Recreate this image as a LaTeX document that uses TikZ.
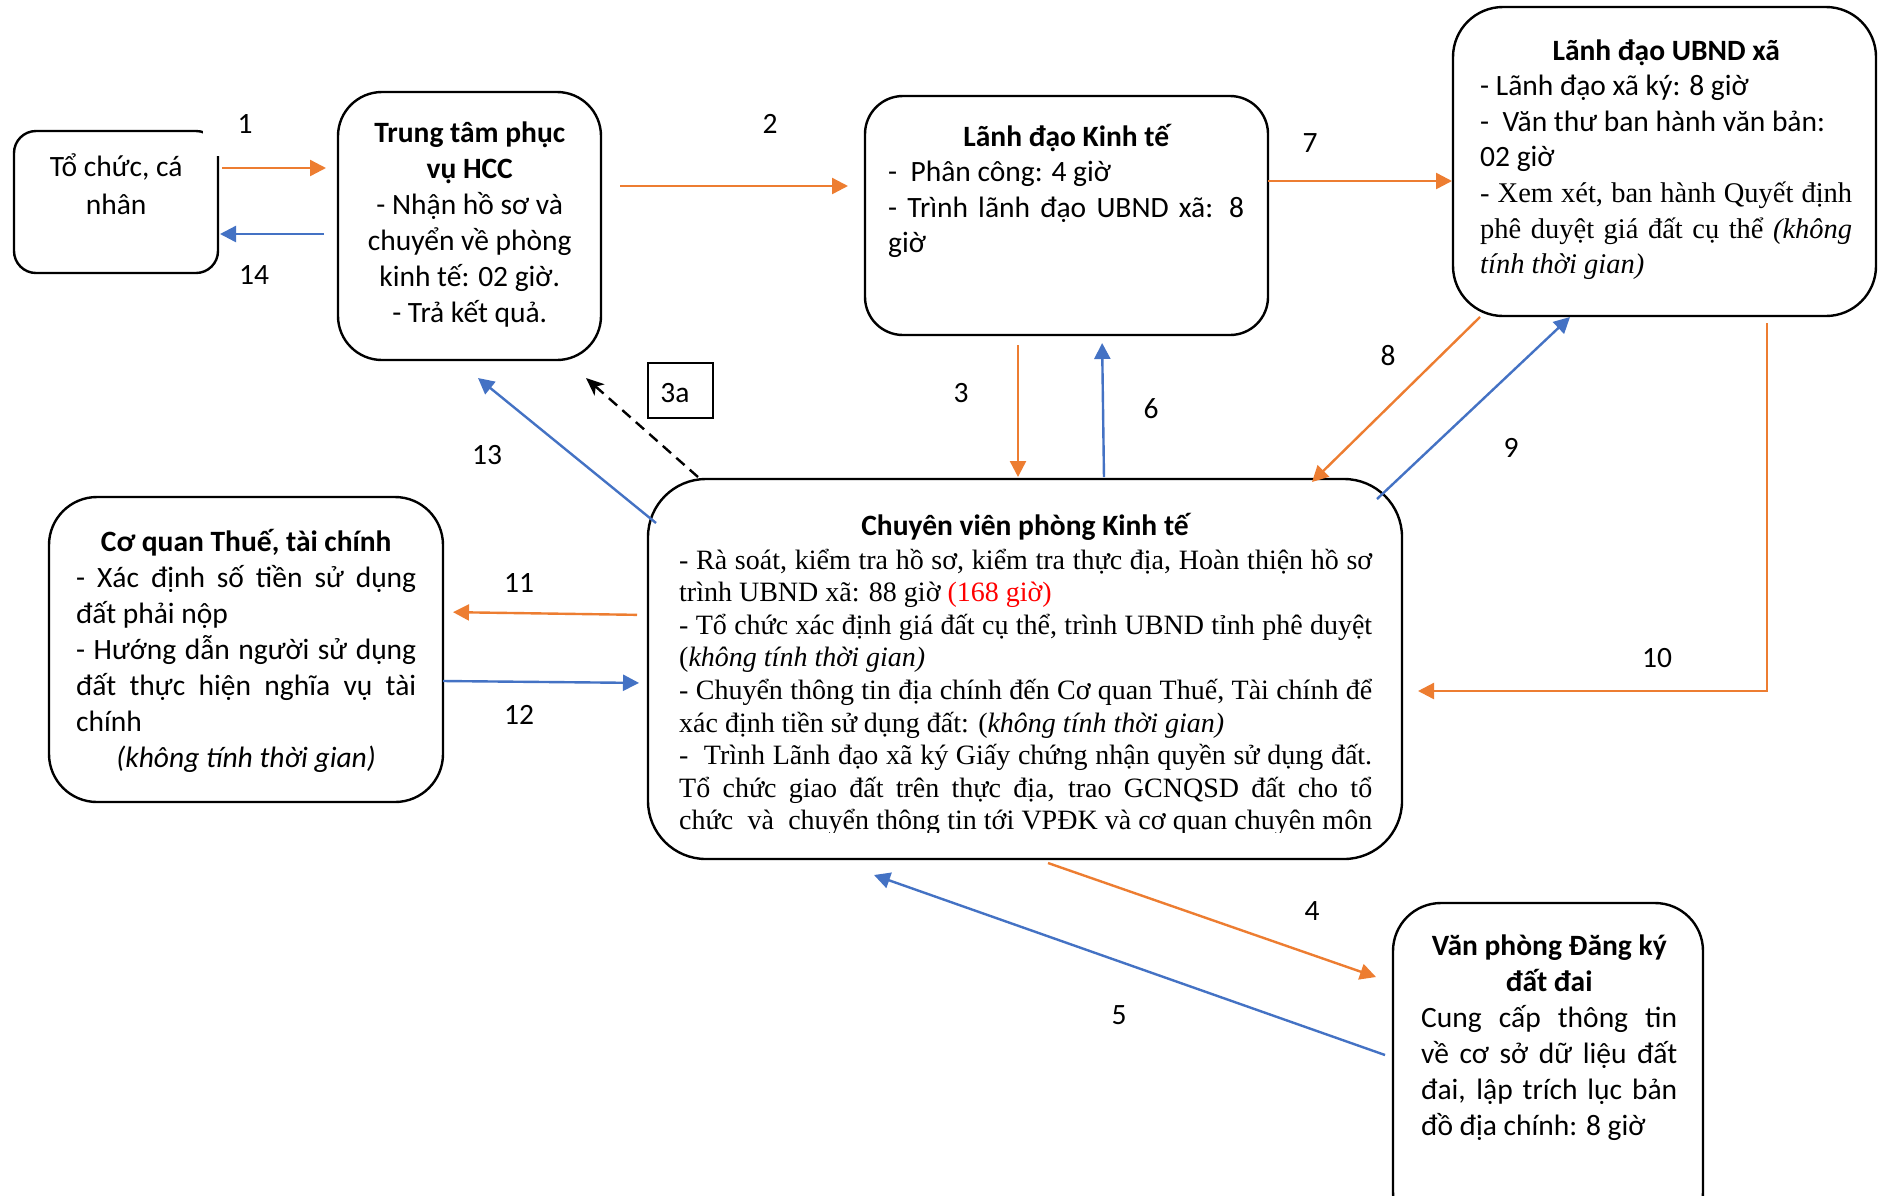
\documentclass[tikz,border=0pt]{standalone}
\usepackage{fontspec}
\setmainfont{Carlito}
\newfontfamily\tnr{Liberation Serif}
\usetikzlibrary{arrows.meta}
\definecolor{orng}{HTML}{ED7D31}
\definecolor{blu}{HTML}{4472C4}
\newcommand\calf{\fontsize{29.5}{36}\selectfont}
\newcommand\tnrD{\tnr\fontsize{28.5}{35.8}\selectfont}
\newcommand\tnrE{\tnr\fontsize{28}{32.6}\selectfont}
\newcommand\Jl[2]{\hbox to #1{#2}}
\newcommand\Ll[2]{\hbox to #1{#2\hfil}}
\newcommand\Cl[2]{\hbox to #1{\hfil#2\hfil}}
\newcommand\tv[1]{\vtop{\lineskiplimit=-100pt\relax #1}}
\tikzset{
  box/.style={draw, line width=2.4pt, inner sep=0pt, outer sep=0pt},
  txt/.style={inner sep=0pt, anchor=base west},
  lab/.style={inner sep=0pt, anchor=base, font=\calf},
  oa/.style={draw=orng, line width=2.4pt, -{Triangle[length=16pt,width=16pt]}},
  ba/.style={draw=blu, line width=2.4pt, -{Triangle[length=16pt,width=16pt]}},
  dsh/.style={draw=black, line width=2.4pt, dash pattern=on 11pt off 7pt, -{Stealth[length=18pt,width=15pt,inset=5pt]}},
}
\begin{document}
\begin{tikzpicture}[x=1pt,y=-1pt]
\clip (0,0) rectangle (1878,1195);
\fill[white] (0,0) rectangle (1878,1195);

% boxes
\node[box, rounded corners=22pt, minimum width=204pt, minimum height=142pt] (A) at (116,202) {};
\fill[white] (203,104) rectangle (236,156);
\node[box, rounded corners=44pt, minimum width=263pt, minimum height=268pt] (B) at (469.5,226) {};
\node[box, rounded corners=38pt, minimum width=403pt, minimum height=239pt] (C) at (1066.5,215.5) {};
\node[box, rounded corners=50pt, minimum width=423pt, minimum height=309pt] (D) at (1664.5,161.5) {};
\node[box, rounded corners=58pt, minimum width=754pt, minimum height=380pt] (E) at (1025,669) {};
\node[box, rounded corners=48pt, minimum width=394pt, minimum height=305pt] (F) at (246,649.5) {};
\node[box, rounded corners=48pt, minimum width=310pt, minimum height=337pt] (G) at (1548,1071.5) {};
\node[box, line width=2pt, minimum width=65pt, minimum height=55pt] (R3a) at (680.5,390.5) {};
\node[lab] (T3a) at (675,402) {3a};

% box texts
\node[txt] (Atxt) at (14,176) {\tv{\calf\baselineskip=38pt \Cl{204pt}{Tổ chức, cá}\Cl{204pt}{nhân}}};
\node[txt] (Btxt) at (338,142) {\tv{\calf
  \Cl{263pt}{\bfseries Trung tâm phục}
  \Cl{263pt}{\bfseries vụ HCC}
  \Cl{263pt}{- Nhận hồ sơ và}
  \Cl{263pt}{chuyển về phòng}
  \Cl{263pt}{kinh tế: 02 giờ.}
  \Cl{263pt}{- Trả kết quả.}}};
\node[txt] (Ctxt) at (888,146) {\tv{\calf\baselineskip=35.5pt
  \Cl{356pt}{\bfseries Lãnh đạo Kinh tế}
  \Ll{356pt}{-\ \ Phân công: 4 giờ}
  \Jl{356pt}{- Trình lãnh đạo UBND xã: 8}
  \Ll{356pt}{giờ}}};
\node[txt] (Dtxt) at (1480,60) {\tv{\calf\baselineskip=35.5pt
  \Cl{372pt}{\bfseries Lãnh đạo UBND xã}
  \Ll{372pt}{- Lãnh đạo xã ký: 8 giờ}
  \Ll{372pt}{-\ \ Văn thư ban hành văn bản:}
  \Ll{372pt}{02 giờ}
  \tnrD
  \Jl{372pt}{- Xem xét, ban hành Quyết định}
  \Jl{372pt}{phê duyệt giá đất cụ thể \textit{(không}}
  \Ll{372pt}{\textit{tính thời gian)}}}};
\node[lab] (Etitle) at (1025,535) {\bfseries Chuyên viên phòng Kinh tế};
\begin{scope}
\clip (600,470) rectangle (1420,832);
\node[txt] (Etxt) at (679,569) {\tv{\tnrE
  \Jl{693pt}{- Rà soát, kiểm tra hồ sơ, kiểm tra thực địa, Hoàn thiện hồ sơ}
  \Ll{693pt}{trình UBND xã: 88 giờ {\color{red}(168 giờ)}}
  \Jl{693pt}{- Tổ chức xác định giá đất cụ thể, trình UBND tỉnh phê duyệt}
  \Ll{693pt}{(\textit{không tính thời gian)}}
  \Jl{693pt}{- Chuyển thông tin địa chính đến Cơ quan Thuế, Tài chính để}
  \Ll{693pt}{xác định tiền sử dụng đất: (\textit{không tính thời gian)}}
  \Jl{693pt}{-\ \ Trình Lãnh đạo xã ký Giấy chứng nhận quyền sử dụng đất.}
  \Jl{693pt}{Tổ chức giao đất trên thực địa, trao GCNQSD đất cho tổ}
  \Jl{693pt}{chức\ \ và\ \ chuyển thông tin tới VPĐK và cơ quan chuyên môn}}};
\end{scope}
\node[txt] (Ftxt) at (76,551) {\tv{\calf
  \Cl{340pt}{\bfseries Cơ quan Thuế, tài chính}
  \Jl{340pt}{- Xác định số tiền sử dụng}
  \Ll{340pt}{đất phải nộp}
  \Jl{340pt}{- Hướng dẫn người sử dụng}
  \Jl{340pt}{đất thực hiện nghĩa vụ tài}
  \Ll{340pt}{chính}
  \Cl{340pt}{\itshape (không tính thời gian)}}};
\node[txt] (Gtxt) at (1421,955) {\tv{\calf
  \Cl{256pt}{\bfseries Văn phòng Đăng ký}
  \Cl{256pt}{\bfseries đất đai}
  \Jl{256pt}{Cung cấp thông tin}
  \Jl{256pt}{về cơ sở dữ liệu đất}
  \Jl{256pt}{đai, lập trích lục bản}
  \Ll{256pt}{đồ địa chính: 8 giờ}}};

% free connector ends
\coordinate (c9) at (1377,499);
\coordinate (c9e) at (1570,317);
\coordinate (c13s) at (656,523);
\coordinate (c13e) at (478,378);
\coordinate (c3as) at (698,477);
\coordinate (c3ae) at (586,378);
\coordinate (c4s) at (1048,863);
\coordinate (c4e) at (1376,977);
\coordinate (c5s) at (1385,1055);
\coordinate (c5e) at (874,875);
\coordinate (c8s) at (1480,317);
\coordinate (c8e) at (1312,482);

% connectors
\draw[oa, shorten <=4pt, shorten >=12pt] (A.east |- 0,168) -- (B.west |- 0,168);
\draw[ba, shorten <=14pt, shorten >=2pt] (B.west |- 0,234) -- (A.east |- 0,234);
\draw[oa, shorten <=19pt, shorten >=17pt] (B.east |- 0,186) -- (C.west |- 0,186);
\draw[oa, shorten >=1pt] (C.east |- 0,181) -- (D.west |- 0,181);
\draw[oa, shorten <=10pt, shorten >=2pt] (C.south -| 1018,0) -- (E.north -| 1018,0);
\draw[ba, shorten <=2pt, shorten >=8pt] (E.north -| 1104,0) -- (C.south -| 1102,0);
\draw[oa] (c8s) -- (c8e);
\draw[ba] (c9) -- (c9e);
\draw[oa, shorten <=7pt, shorten >=16pt] (D.south -| 1767,0) |- (E.east |- 0,691);
\draw[oa, shorten <=11pt, shorten >=10pt] (E.west |- 0,615) -- (F.east |- 0,612);
\draw[ba, shorten >=9pt] (F.east |- 0,681) -- (E.west |- 0,683);
\draw[ba] (c13s) -- (c13e);
\draw[dsh] (c3as) -- (c3ae);
\draw[oa] (c4s) -- (c4e);
\draw[ba] (c5s) -- (c5e);

% connector labels
\node[lab] (l1) at (245,133) {1};
\node[lab] (l14) at (254,284) {14};
\node[lab] (l2) at (770,133) {2};
\node[lab] (l7) at (1310,152) {7};
\node[lab] (l3) at (961,402) {3};
\node[lab] (l6) at (1151,418) {6};
\node[lab] (l8) at (1388,365) {8};
\node[lab] (l9) at (1511,457) {9};
\node[lab] (l10) at (1657,667) {10};
\node[lab] (l11) at (519,592) {11};
\node[lab] (l12) at (519,724) {12};
\node[lab] (l13) at (487,464) {13};
\node[lab] (l4) at (1312,920) {4};
\node[lab] (l5) at (1119,1024) {5};
\end{tikzpicture}
\end{document}
